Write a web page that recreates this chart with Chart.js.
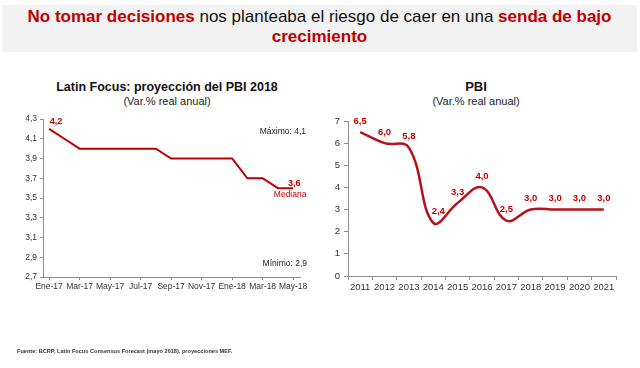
<!DOCTYPE html>
<html>
<head>
<meta charset="utf-8">
<script src="https://cdn.jsdelivr.net/npm/chart.js@4"></script>
<style>
  body { margin: 0; width: 640px; height: 368px; background: #fff; position: relative; overflow: hidden;
         font-family: Arial, "Liberation Sans", sans-serif; }
  .banner { position: absolute; left: 2px; top: 5px; width: 635px; height: 47px; background: #f2f2f2;
            text-align: center; font-size: 17px; line-height: 20px; color: #111; padding-top: 2px; box-sizing: border-box; }
  .banner b { color: #c00000; }
  .ttl { position: absolute; text-align: center; font-weight: bold; color: #111; }
  .sub { position: absolute; text-align: center; font-size: 11px; color: #222; }
  canvas { position: absolute; left: 0; top: 0; }
  .src { position: absolute; left: 17px; top: 348px; font-size: 5.6px; font-weight: bold; color: #333; }
</style>
</head>
<body>
<div class="banner"><b>No tomar decisiones</b> nos planteaba el riesgo de caer en una <b>senda de bajo<br>crecimiento</b></div>

<div class="ttl" style="left:17px; width:300px; top:80px; font-size:12.5px;">Latin Focus: proyección del PBI 2018</div>
<div class="sub" style="left:17px; width:300px; top:95px;">(Var.% real anual)</div>
<div class="ttl" style="left:376px; width:200px; top:79px; font-size:13px;">PBI</div>
<div class="sub" style="left:376px; width:200px; top:95px;">(Var.% real anual)</div>

<canvas id="lfChart" width="640" height="368"></canvas>
<canvas id="pbiChart" width="640" height="368"></canvas>

<div class="src">Fuente: BCRP, Latin Focus Consensus Forecast (mayo 2018), proyecciones MEF.</div>

<script>
// Latin Focus monthly projection for 2018 GDP
const lfMonths = ['Ene-17','Feb-17','Mar-17','Abr-17','May-17','Jun-17','Jul-17','Ago-17','Sep-17',
                  'Oct-17','Nov-17','Dic-17','Ene-18','Feb-18','Mar-18','Abr-18','May-18'];
const lfValues = [4.2, 4.1, 4.0, 4.0, 4.0, 4.0, 4.0, 4.0, 3.9, 3.9, 3.9, 3.9, 3.9, 3.7, 3.7, 3.6, 3.6];
const lfTickEvery = 2;
const lfMax = 4.1;
const lfMin = 2.9;

// PBI yearly
const pbiYears = ['2011','2012','2013','2014','2015','2016','2017','2018','2019','2020','2021'];
const pbiValues = [6.5, 6.0, 5.8, 2.4, 3.3, 4.0, 2.5, 3.0, 3.0, 3.0, 3.0];

const RED = '#c00000';
const AXIS = '#8c8c8c';
const FONT = 'Arial, "Liberation Sans", sans-serif';
const comma = v => Number(v).toFixed(1).replace('.', ',');

Chart.defaults.font.family = FONT;
Chart.defaults.color = '#333';

// text notes on the Latin Focus chart
const lfNotes = {
    id: 'lfNotes',
    afterDatasetsDraw(chart) {
        const { ctx, scales: { x, y }, chartArea } = chart;
        const first = 0, last = lfValues.length - 1;
        ctx.save();
        ctx.textAlign = 'center';
        ctx.textBaseline = 'middle';
        ctx.fillStyle = RED;
        ctx.font = 'bold 9px ' + FONT;
        ctx.fillText(comma(lfValues[first]), x.getPixelForValue(first) + 7, y.getPixelForValue(lfValues[first]) - 7);
        ctx.fillText(comma(lfValues[last]), x.getPixelForValue(last) + 1, y.getPixelForValue(lfValues[last]) - 5);
        ctx.font = '8.5px ' + FONT;
        ctx.fillText('Mediana', x.getPixelForValue(last) - 3, y.getPixelForValue(lfValues[last]) + 7);
        ctx.fillStyle = '#222';
        ctx.font = '8.5px ' + FONT;
        ctx.textAlign = 'right';
        ctx.fillText('Máximo: ' + comma(lfMax), chartArea.right + 6, y.getPixelForValue(lfMax) - 7);
        ctx.fillText('Mínimo: ' + comma(lfMin), chartArea.right + 7, y.getPixelForValue(lfMin) + 6);
        ctx.restore();
    }
};

new Chart(document.getElementById('lfChart'), {
    type: 'line',
    data: {
        datasets: [{
            data: lfValues.map((v, i) => ({ x: i, y: v })),
            borderColor: RED,
            borderWidth: 2,
            pointRadius: 0,
            tension: 0
        }]
    },
    options: {
        responsive: false,
        animation: false,
        devicePixelRatio: 1,
        layout: { padding: { left: 0, top: 119, right: 340, bottom: 71 } },
        plugins: { legend: { display: false }, tooltip: { enabled: false } },
        scales: {
            x: {
                type: 'linear',
                min: -0.4,
                max: 16.45,
                afterBuildTicks: s => {
                    s.ticks = lfMonths.map((m, i) => i).filter(i => i % lfTickEvery === 0).map(i => ({ value: i }));
                },
                afterFit: s => { s.height = 20; },
                ticks: { callback: v => lfMonths[v], font: { size: 8.5 }, padding: 2, maxRotation: 0, autoSkip: false },
                grid: { drawOnChartArea: false, tickLength: 3, color: AXIS },
                border: { color: AXIS }
            },
            y: {
                min: 2.7,
                max: 4.3,
                afterBuildTicks: s => {
                    const t = [];
                    for (let v = 27; v <= 43; v += 2) t.push({ value: v / 10 });
                    s.ticks = t;
                },
                afterFit: s => { s.width = 43; },
                ticks: { callback: v => comma(v), font: { size: 8.5 }, padding: 3 },
                grid: { drawOnChartArea: false, tickLength: 3, color: AXIS },
                border: { color: AXIS }
            }
        }
    },
    plugins: [lfNotes]
});

// value labels on the PBI chart
const pbiLabels = {
    id: 'pbiLabels',
    afterDatasetsDraw(chart) {
        const { ctx } = chart;
        const pts = chart.getDatasetMeta(0).data;
        ctx.save();
        ctx.fillStyle = RED;
        ctx.font = 'bold 9.5px ' + FONT;
        ctx.textAlign = 'center';
        ctx.textBaseline = 'middle';
        pts.forEach((p, i) => {
            const dx = pbiValues[i] === 2.4 ? 5 : 0;
            ctx.fillText(comma(pbiValues[i]), p.x + dx, p.y - 11);
        });
        ctx.restore();
    }
};

new Chart(document.getElementById('pbiChart'), {
    type: 'line',
    data: {
        labels: pbiYears,
        datasets: [{
            data: pbiValues,
            borderColor: '#b8111c',
            borderWidth: 2.5,
            pointRadius: 0,
            tension: 0.4
        }]
    },
    options: {
        responsive: false,
        animation: false,
        devicePixelRatio: 1,
        layout: { padding: { left: 320, top: 121, right: 24, bottom: 72 } },
        plugins: { legend: { display: false }, tooltip: { enabled: false } },
        scales: {
            x: {
                offset: true,
                afterFit: s => { s.height = 20; },
                ticks: { font: { size: 9.5 }, padding: 2, maxRotation: 0, autoSkip: false },
                grid: { drawOnChartArea: false, offset: true, tickLength: 4, color: AXIS },
                border: { color: AXIS }
            },
            y: {
                min: 0,
                max: 7,
                ticks: { stepSize: 1, font: { size: 9.5 }, padding: 4 },
                afterFit: s => { s.width = 28; },
                grid: { drawOnChartArea: false, tickLength: 4, color: AXIS },
                border: { color: AXIS }
            }
        }
    },
    plugins: [pbiLabels]
});
</script>
</body>
</html>
